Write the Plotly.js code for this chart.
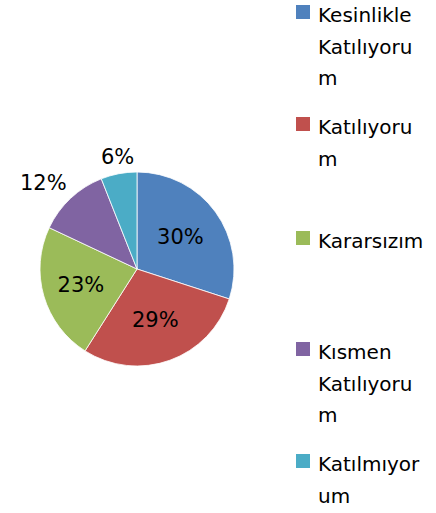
<!DOCTYPE html>
<html>
<head>
<meta charset="utf-8">
<script src="https://cdn.plot.ly/plotly-3.0.1.min.js"></script>
<style>
html,body{margin:0;padding:0;background:#fff;}
#chart{width:436px;height:513px;}
</style>
</head>
<body>
<div id="chart"></div>
<script>
// Data
const labels = ["Kesinlikle Katılıyorum", "Katılıyorum", "Kararsızım", "Kısmen Katılıyorum", "Katılmıyorum"];
const values = [30, 29, 23, 12, 6];
const colors = ["#4F81BD", "#C0504D", "#9BBB59", "#8064A2", "#4BACC6"];
const outsideLabel = [false, false, false, true, true];
// Legend text as wrapped in the reference
const legendLines = [
  ["Kesinlikle", "Katılıyoru", "m"],
  ["Katılıyoru", "m"],
  ["Kararsızım"],
  ["Kısmen", "Katılıyoru", "m"],
  ["Katılmıyor", "um"]
];

const W = 436, H = 513;
const FONT = "'DejaVu Sans', sans-serif";
const legendTop = [12, 124, 238, 349, 461];
const lineGap = 31.5;
const swX = 296, swSize = 14, textX = 316;

const annotations = [];
const shapes = [];
labels.forEach((lab, i) => {
  const y0 = legendTop[i];
  shapes.push({
    type: "rect", xref: "paper", yref: "paper",
    x0: swX / W, x1: (swX + swSize) / W,
    y0: 1 - (y0 - swSize / 2) / H, y1: 1 - (y0 + swSize / 2) / H,
    fillcolor: colors[i], line: {width: 0}
  });
  legendLines[i].forEach((t, j) => {
    annotations.push({
      xref: "paper", yref: "paper",
      x: textX / W, y: 1 - (y0 + 3 + j * lineGap) / H,
      xanchor: "left", yanchor: "middle",
      text: t, showarrow: false,
      font: {family: FONT, size: 20, color: "#000"}
    });
  });
});

const cx = 137, cy = 269, r = 97;

// Outside percent labels placed Excel-style along each slice's mid-angle
const total = values.reduce((a, b) => a + b, 0);
let cum = 0;
values.forEach((v, i) => {
  const mid = (cum + v / 2) / total * 2 * Math.PI;
  cum += v;
  if (!outsideLabel[i]) return;
  const s = Math.sin(mid), c = Math.cos(mid);
  const R = r + 6, hw = 24, hh = 11;
  const fx = Math.sign(s) * Math.min(1, Math.max(0, (Math.abs(s) - 0.2) / 0.5));
  const fy = Math.sign(c) * Math.min(1, Math.max(0, (Math.abs(c) - 0.2) / 0.5));
  const px = cx + R * s + hw * fx;
  const py = cy - R * c - hh * fy;
  annotations.push({
    xref: "paper", yref: "paper",
    x: px / W, y: 1 - py / H, xanchor: "center", yanchor: "middle",
    text: Math.round(v / total * 100) + "%", showarrow: false,
    font: {family: FONT, size: 21, color: "#000"}
  });
});

const trace = {
  type: "pie",
  labels: labels,
  values: values,
  sort: false,
  direction: "clockwise",
  rotation: 0,
  marker: {colors: colors, line: {color: "#ffffff", width: 0.8}},
  textinfo: "percent",
  textposition: outsideLabel.map(o => o ? "none" : "inside"),
  insidetextorientation: "horizontal",
  textfont: {family: FONT, size: 21, color: "#000"},
  showlegend: false,
  hoverinfo: "label+percent",
  domain: {x: [(cx - r) / W, (cx + r) / W], y: [1 - (cy + r) / H, 1 - (cy - r) / H]}
};

const layout = {
  width: W, height: H,
  margin: {l: 0, r: 0, t: 0, b: 0},
  paper_bgcolor: "#fff",
  showlegend: false,
  annotations: annotations,
  shapes: shapes
};

Plotly.newPlot("chart", [trace], layout, {displayModeBar: false, staticPlot: true});
</script>
</body>
</html>
